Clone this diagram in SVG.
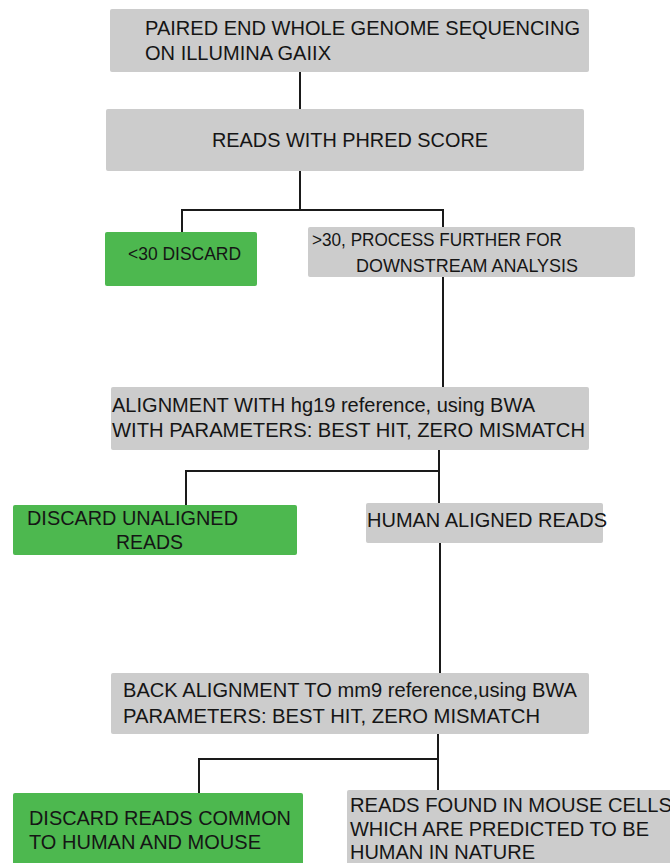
<svg xmlns="http://www.w3.org/2000/svg" width="670" height="863" viewBox="0 0 670 863">
<style>
.g{fill:#cccccc}
.n{fill:#4db84f}
.t{font-family:"Liberation Sans",Arial,sans-serif;fill:#151515}
.c{font-family:"Liberation Sans",Arial,sans-serif;fill:#151515}
.ln{fill:none;stroke:#1a1a1a;stroke-width:2}
</style>
<rect width="670" height="863" fill="#ffffff"/>
<g id="connectors">
<path class="ln" d="M300 72V109"/>
<path class="ln" d="M300 171V210M182 232V210H443V227"/>
<path class="ln" d="M443 277V387"/>
<path class="ln" d="M439 450V503M186 505V471H439"/>
<path class="ln" d="M440 543V673"/>
<path class="ln" d="M438 734V790M199 793V759H438"/>
</g>
<g id="n1">
<rect class="g" x="110" y="9" width="479" height="63" rx="2"/>
<text class="t" font-size="21" x="145" y="35" textLength="435" lengthAdjust="spacingAndGlyphs">PAIRED END WHOLE GENOME SEQUENCING</text>
<text class="t" font-size="21" x="145" y="60" textLength="186" lengthAdjust="spacingAndGlyphs">ON ILLUMINA GAIIX</text>
</g>
<g id="n2">
<rect class="g" x="106" y="109" width="478" height="62" rx="2"/>
<text class="t" font-size="21" x="212" y="147" textLength="276" lengthAdjust="spacingAndGlyphs">READS WITH PHRED SCORE</text>
</g>
<g id="n3">
<rect class="n" x="105" y="232" width="152" height="54" rx="2"/>
<text class="c" font-size="19" x="128" y="260" textLength="113" lengthAdjust="spacingAndGlyphs">&lt;30 DISCARD</text>
</g>
<g id="n4">
<rect class="g" x="308" y="227" width="327" height="50" rx="2"/>
<text class="c" font-size="19" x="312" y="246" textLength="250" lengthAdjust="spacingAndGlyphs">&gt;30, PROCESS FURTHER FOR</text>
<text class="c" font-size="19" x="356" y="272" textLength="222" lengthAdjust="spacingAndGlyphs">DOWNSTREAM ANALYSIS</text>
</g>
<g id="n5">
<rect class="g" x="111" y="387" width="478" height="63" rx="2"/>
<text class="t" font-size="20" x="112" y="412" textLength="423" lengthAdjust="spacingAndGlyphs">ALIGNMENT WITH hg19 reference, using BWA</text>
<text class="t" font-size="20" x="112" y="437" textLength="473" lengthAdjust="spacingAndGlyphs">WITH PARAMETERS: BEST HIT, ZERO MISMATCH</text>
</g>
<g id="n6">
<rect class="n" x="13" y="505" width="284" height="50" rx="2"/>
<text class="t" font-size="20" x="27" y="525" textLength="211" lengthAdjust="spacingAndGlyphs">DISCARD UNALIGNED</text>
<text class="t" font-size="20" x="116" y="549" textLength="67" lengthAdjust="spacingAndGlyphs">READS</text>
</g>
<g id="n7">
<rect class="g" x="366" y="503" width="237" height="40" rx="2"/>
<text class="t" font-size="20" x="367" y="527" textLength="240" lengthAdjust="spacingAndGlyphs">HUMAN ALIGNED READS</text>
</g>
<g id="n8">
<rect class="g" x="111" y="673" width="478" height="61" rx="2"/>
<text class="t" font-size="20" x="123" y="697" textLength="454" lengthAdjust="spacingAndGlyphs">BACK ALIGNMENT TO mm9 reference,using BWA</text>
<text class="t" font-size="20" x="123" y="723" textLength="417" lengthAdjust="spacingAndGlyphs">PARAMETERS: BEST HIT, ZERO MISMATCH</text>
</g>
<g id="n9">
<rect class="n" x="13" y="793" width="290" height="75" rx="2"/>
<text class="t" font-size="20" x="29" y="825" textLength="262" lengthAdjust="spacingAndGlyphs">DISCARD READS COMMON</text>
<text class="t" font-size="20" x="29" y="849" textLength="232" lengthAdjust="spacingAndGlyphs">TO HUMAN AND MOUSE</text>
</g>
<g id="n10">
<rect class="g" x="347" y="790" width="330" height="80" rx="2"/>
<text class="t" font-size="20" x="350" y="812" textLength="322" lengthAdjust="spacingAndGlyphs">READS FOUND IN MOUSE CELLS</text>
<text class="t" font-size="20" x="350" y="836" textLength="299" lengthAdjust="spacingAndGlyphs">WHICH ARE PREDICTED TO BE</text>
<text class="t" font-size="20" x="350" y="859" textLength="185" lengthAdjust="spacingAndGlyphs">HUMAN IN NATURE</text>
</g>
</svg>
